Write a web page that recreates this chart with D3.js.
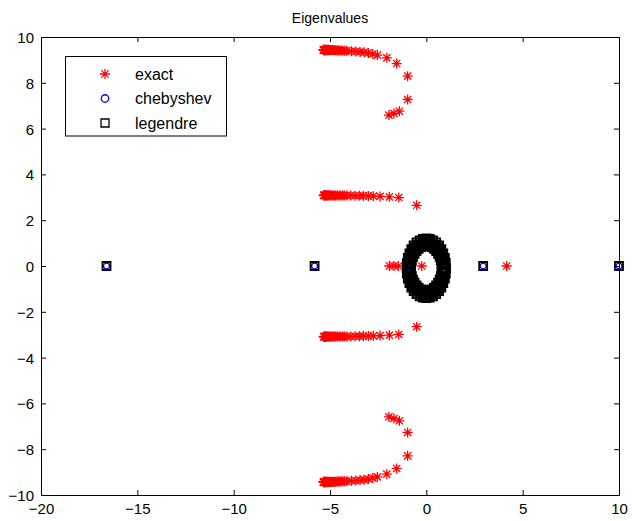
<!DOCTYPE html>
<html><head><meta charset="utf-8">
<script src="https://cdn.jsdelivr.net/npm/d3@7"></script>
<style>
body{margin:0;background:#fff;}
text{font-family:"Liberation Sans",Arial,Helvetica,sans-serif;fill:#000;}
</style>
</head><body>
<svg id="chart" width="632" height="521"></svg>
<script>
const chartTitle = "Eigenvalues";
const xTicks = [-20, -15, -10, -5, 0, 5, 10];
const yTicks = [-10, -8, -6, -4, -2, 0, 2, 4, 6, 8, 10];
const legendLabels = ["exact", "chebyshev", "legendre"];

// exact eigenvalues [re, im]
const exactUpper = [[-5.35,9.44],[-5.33,9.42],[-5.31,9.45],[-5.29,9.41],[-5.27,9.44],[-5.24,9.42],[-5.21,9.45],[-5.18,9.41],[-5.15,9.44],[-5.11,9.42],[-5.07,9.44],[-5.03,9.42],[-4.98,9.43],[-4.93,9.42],[-4.88,9.43],[-4.82,9.42],[-4.76,9.42],[-4.70,9.42],[-4.63,9.41],[-4.56,9.41],[-4.49,9.41],[-4.41,9.41],[-4.33,9.40],[-4.24,9.40],
  [-4.13,9.40],[-3.89,9.38],[-3.66,9.37],[-3.44,9.35],[-3.23,9.33],[-3.01,9.30],[-2.78,9.26],[-2.54,9.21],[-2.05,9.09],[-1.54,8.84],[-0.97,8.29],[-0.97,7.27],[-1.40,6.76],[-1.68,6.66],[-1.94,6.59]];
const exactLower = [[-5.35,-9.44],[-5.33,-9.42],[-5.31,-9.45],[-5.29,-9.41],[-5.27,-9.44],[-5.24,-9.42],[-5.21,-9.45],[-5.18,-9.41],[-5.15,-9.44],[-5.11,-9.42],[-5.07,-9.44],[-5.03,-9.42],[-4.98,-9.43],[-4.93,-9.42],[-4.88,-9.43],[-4.82,-9.42],[-4.76,-9.42],[-4.70,-9.42],[-4.63,-9.41],[-4.56,-9.41],[-4.49,-9.41],[-4.41,-9.41],[-4.33,-9.40],[-4.24,-9.40],
  [-4.13,-9.40],[-3.89,-9.38],[-3.66,-9.37],[-3.44,-9.35],[-3.23,-9.33],[-3.01,-9.30],[-2.78,-9.26],[-2.54,-9.21],[-2.05,-9.09],[-1.54,-8.84],[-0.97,-8.29],[-0.97,-7.27],[-1.40,-6.76],[-1.68,-6.66],[-1.94,-6.59]];
const exactMidUpper = [[-5.33,3.09],[-5.31,3.07],[-5.29,3.10],[-5.27,3.08],[-5.24,3.10],[-5.21,3.07],[-5.18,3.09],[-5.14,3.08],[-5.10,3.09],[-5.06,3.08],[-5.01,3.09],[-4.96,3.08],[-4.90,3.08],[-4.84,3.08],[-4.77,3.08],[-4.70,3.08],[-4.62,3.08],[-4.53,3.08],[-4.44,3.08],[-4.34,3.08],[-4.25,3.08],
  [-4.13,3.08],[-3.92,3.08],[-3.70,3.07],[-3.48,3.07],[-3.27,3.06],[-3.01,3.06],[-2.75,3.05],[-2.40,3.04],[-1.92,3.02],[-1.43,2.99],[-0.50,2.65]];
const exactMidLower = [[-5.33,-3.09],[-5.31,-3.07],[-5.29,-3.10],[-5.27,-3.08],[-5.24,-3.10],[-5.21,-3.07],[-5.18,-3.09],[-5.14,-3.08],[-5.10,-3.09],[-5.06,-3.08],[-5.01,-3.09],[-4.96,-3.08],[-4.90,-3.08],[-4.84,-3.08],[-4.77,-3.08],[-4.70,-3.08],[-4.62,-3.08],[-4.53,-3.08],[-4.44,-3.08],[-4.34,-3.08],[-4.25,-3.08],
  [-4.13,-3.08],[-3.92,-3.08],[-3.70,-3.07],[-3.48,-3.07],[-3.27,-3.06],[-3.01,-3.06],[-2.75,-3.05],[-2.40,-3.04],[-1.92,-3.02],[-1.43,-2.99],[-0.50,-2.65]];
const exactReal = [[-1.92,0],[-1.68,0],[-1.45,0],[-0.24,0],[4.17,0]];

// chebyshev eigenvalues
const chebyshev = [[-16.6,0],[-5.8,0],[2.95,0],[10,0],[-0.88,-0.05],[1.02,0]];

// legendre eigenvalues
const legendreReal = [[-16.6,0],[-5.8,0],[2.95,0],[10,0]];
const legendreRing1 = [[0.80,-0.10],[0.79,0.07],[0.75,0.24],[0.69,0.40],[0.61,0.53],[0.51,0.65],[0.40,0.75],[0.27,0.82],[0.14,0.87],[0.00,0.88],[-0.14,0.87],[-0.27,0.82],[-0.40,0.75],[-0.51,0.65],[-0.61,0.53],[-0.69,0.40],[-0.75,0.24],[-0.79,0.07],[-0.80,-0.10],[-0.79,-0.27],[-0.75,-0.44],[-0.69,-0.60],[-0.61,-0.73],[-0.51,-0.85],[-0.40,-0.95],[-0.27,-1.02],[-0.14,-1.07],[0.00,-1.08],[0.14,-1.07],[0.27,-1.02],[0.40,-0.95],[0.51,-0.85],[0.61,-0.73],[0.69,-0.60],[0.75,-0.44],[0.79,-0.27]];
const legendreRing2 = [[0.86,-0.10],[0.85,0.09],[0.81,0.27],[0.75,0.44],[0.66,0.59],[0.55,0.73],[0.43,0.84],[0.29,0.92],[0.15,0.96],[0.00,0.98],[-0.15,0.96],[-0.29,0.92],[-0.43,0.84],[-0.55,0.73],[-0.66,0.59],[-0.75,0.44],[-0.81,0.27],[-0.85,0.09],[-0.86,-0.10],[-0.85,-0.29],[-0.81,-0.47],[-0.75,-0.64],[-0.66,-0.79],[-0.55,-0.93],[-0.43,-1.04],[-0.29,-1.12],[-0.15,-1.16],[0.00,-1.18],[0.15,-1.16],[0.29,-1.12],[0.43,-1.04],[0.55,-0.93],[0.66,-0.79],[0.75,-0.64],[0.81,-0.47],[0.85,-0.29]];
const legendreRing3 = [[0.94,-0.10],[0.93,0.11],[0.88,0.31],[0.81,0.50],[0.72,0.67],[0.60,0.81],[0.47,0.93],[0.32,1.02],[0.16,1.07],[0.00,1.09],[-0.16,1.07],[-0.32,1.02],[-0.47,0.93],[-0.60,0.81],[-0.72,0.67],[-0.81,0.50],[-0.88,0.31],[-0.93,0.11],[-0.94,-0.10],[-0.93,-0.31],[-0.88,-0.51],[-0.81,-0.70],[-0.72,-0.87],[-0.60,-1.01],[-0.47,-1.13],[-0.32,-1.22],[-0.16,-1.27],[0.00,-1.29],[0.16,-1.27],[0.32,-1.22],[0.47,-1.13],[0.60,-1.01],[0.72,-0.87],[0.81,-0.70],[0.88,-0.51],[0.93,-0.31]];
const legendreRing4 = [[1.02,-0.10],[1.01,0.13],[0.96,0.35],[0.88,0.55],[0.78,0.74],[0.66,0.90],[0.51,1.03],[0.35,1.12],[0.18,1.18],[0.00,1.20],[-0.18,1.18],[-0.35,1.12],[-0.51,1.03],[-0.66,0.90],[-0.78,0.74],[-0.88,0.55],[-0.96,0.35],[-1.01,0.13],[-1.02,-0.10],[-1.01,-0.33],[-0.96,-0.55],[-0.88,-0.75],[-0.78,-0.94],[-0.66,-1.10],[-0.51,-1.23],[-0.35,-1.32],[-0.18,-1.38],[0.00,-1.40],[0.18,-1.38],[0.35,-1.32],[0.51,-1.23],[0.66,-1.10],[0.78,-0.94],[0.88,-0.75],[0.96,-0.55],[1.01,-0.33]];

const exact = [].concat(exactUpper, exactMidUpper, exactReal, exactMidLower, exactLower);
const legendre = [].concat(legendreReal, legendreRing1, legendreRing2, legendreRing3, legendreRing4);

const svg = d3.select("#chart");
const L = 41, R = 619, T = 37, B = 495;
const x = d3.scaleLinear().domain([-20, 10]).range([L, R]);
const y = d3.scaleLinear().domain([-10, 10]).range([B, T]);

svg.append("rect").attr("width", 632).attr("height", 521).attr("fill", "#fff");

const starPath = "M-5,0H5M0,-5V5M-3.6,-3.6L3.6,3.6M-3.6,3.6L3.6,-3.6";
const squarePath = d3.symbol().type(d3.symbolSquare).size(64)();
const circlePath = d3.symbol().type(d3.symbolCircle).size(28)();
const legendCirclePath = d3.symbol().type(d3.symbolCircle).size(44)();

// axes
const fmt = d3.format("d");
const gx = svg.append("g").attr("transform", `translate(0,${B})`)
  .call(d3.axisBottom(x).tickValues(xTicks).tickSize(-5).tickPadding(8).tickFormat(fmt));
const gxt = svg.append("g").attr("transform", `translate(0,${T})`)
  .call(d3.axisTop(x).tickValues(xTicks).tickSize(-5).tickFormat(""));
const gy = svg.append("g").attr("transform", `translate(${L},0)`)
  .call(d3.axisLeft(y).tickValues(yTicks).tickSize(-5).tickPadding(7).tickFormat(fmt));
const gyr = svg.append("g").attr("transform", `translate(${R},0)`)
  .call(d3.axisRight(y).tickValues(yTicks).tickSize(-5).tickFormat(""));
[gx, gxt, gy, gyr].forEach(g => {
  g.selectAll("path.domain").attr("stroke", "#000").attr("stroke-width", 1);
  g.selectAll(".tick line").attr("stroke", "#000");
  g.selectAll("text").attr("font-size", 15).attr("fill", "#000")
    .attr("font-family", "'Liberation Sans', Arial, sans-serif");
});
gy.selectAll("text").attr("dy", "0.36em");

// title
svg.append("text").attr("x", (L + R) / 2).attr("y", 23).attr("text-anchor", "middle")
  .attr("font-size", 14).text(chartTitle);

// data
svg.append("g").selectAll("path").data(exact).join("path")
  .attr("d", starPath).attr("transform", d => `translate(${x(d[0])},${y(d[1])})`)
  .attr("fill", "none").attr("stroke", "#ff0000").attr("stroke-width", 1.3);
svg.append("g").selectAll("path").data(chebyshev).join("path")
  .attr("d", circlePath).attr("transform", d => `translate(${x(d[0])},${y(d[1])})`)
  .attr("fill", "none").attr("stroke", "#0000ff").attr("stroke-width", 1.3);
svg.append("g").selectAll("path").data(legendre).join("path")
  .attr("d", squarePath).attr("transform", d => `translate(${x(d[0])},${y(d[1])})`)
  .attr("fill", "none").attr("stroke", "#000").attr("stroke-width", 1.8);

// legend
const lg = svg.append("g");
lg.append("rect").attr("x", 65.5).attr("y", 56.5).attr("width", 161).attr("height", 79.5)
  .attr("fill", "#fff").attr("stroke", "#000").attr("stroke-width", 1);
const rowsY = [74, 98.5, 123];
const legendMarkers = [
  {d: starPath, stroke: "#ff0000", sw: 1.3},
  {d: legendCirclePath, stroke: "#0000ff", sw: 1.3},
  {d: squarePath, stroke: "#000", sw: 1.3}
];
legendLabels.forEach((lab, i) => {
  lg.append("path").attr("d", legendMarkers[i].d)
    .attr("transform", `translate(105,${rowsY[i]})`)
    .attr("fill", "none").attr("stroke", legendMarkers[i].stroke).attr("stroke-width", legendMarkers[i].sw);
  lg.append("text").attr("x", 135).attr("y", rowsY[i] + 5.5).attr("font-size", 16).text(lab);
});
</script>
</body></html>
